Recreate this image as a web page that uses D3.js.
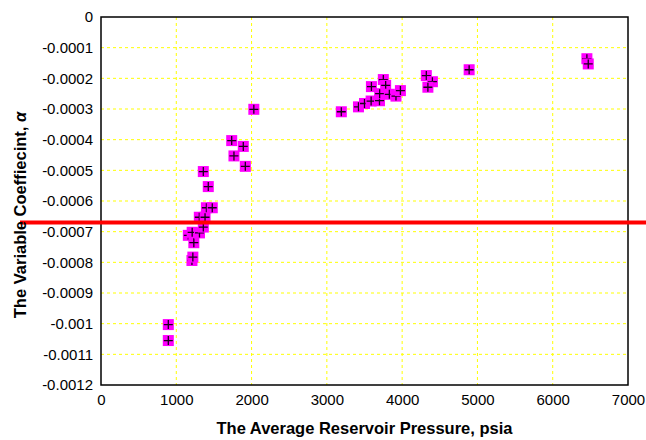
<!DOCTYPE html>
<html>
<head>
<meta charset="utf-8">
<script src="https://cdn.jsdelivr.net/npm/d3@7"></script>
<style>
  body { margin: 0; background: #fff; }
  svg { display: block; font-family: "Liberation Sans", Arial, sans-serif; }
</style>
</head>
<body>
<div id="chart"></div>
<script>
// Data
const pressure = [894, 894, 1160, 1208, 1220, 1211, 1233, 1308, 1359, 1306, 1382, 1400, 1478, 1425, 1359,
    1736, 1890, 1766, 1917, 2030,
    3192, 3420, 3500, 3588, 3699, 3592, 3750, 3781, 3701, 3830, 3918, 3977,
    4321, 4402, 4342, 4890, 6454, 6472];
const alpha = [-0.001055, -0.001003, -0.000712, -0.000794, -0.000783, -0.000702, -0.000736, -0.000704, -0.000685, -0.000653, -0.000653, -0.000622, -0.000622, -0.000553, -0.000504,
    -0.000403, -0.000422, -0.000453, -0.000487, -0.000301,
    -0.000309, -0.000293, -0.000282, -0.000274, -0.000273, -0.000227, -0.000204, -0.000223, -0.000250, -0.000252, -0.000258, -0.000240,
    -0.000191, -0.000211, -0.000229, -0.000172, -0.000136, -0.000153];
const xTicks = [0, 1000, 2000, 3000, 4000, 5000, 6000, 7000];
const yTicks = [0, -0.0001, -0.0002, -0.0003, -0.0004, -0.0005, -0.0006, -0.0007, -0.0008, -0.0009, -0.001, -0.0011, -0.0012];
const yTickLabels = ["0", "-0.0001", "-0.0002", "-0.0003", "-0.0004", "-0.0005", "-0.0006", "-0.0007", "-0.0008", "-0.0009", "-0.001", "-0.0011", "-0.0012"];
const thresholdValue = -0.00067;

const W = 646, H = 440;
const margin = { top: 17, right: 18, bottom: 55, left: 101 };
const width = W - margin.left - margin.right;
const height = H - margin.top - margin.bottom;

const svg = d3.select("#chart").append("svg")
    .attr("width", W)
    .attr("height", H);

const g = svg.append("g")
    .attr("transform", `translate(${margin.left},${margin.top})`);

const xScale = d3.scaleLinear().domain([0, 7000]).range([0, width]);
const yScale = d3.scaleLinear().domain([-0.0012, 0]).range([height, 0]);

// Grid lines
g.append("g").selectAll("line")
    .data(xTicks.slice(1, -1))
    .join("line")
    .attr("x1", d => xScale(d)).attr("x2", d => xScale(d))
    .attr("y1", 0).attr("y2", height)
    .attr("stroke", "#ffff00")
    .attr("stroke-width", 1)
    .attr("stroke-dasharray", "3,3");

g.append("g").selectAll("line")
    .data(yTicks.slice(1, -1))
    .join("line")
    .attr("x1", 0).attr("x2", width)
    .attr("y1", d => yScale(d)).attr("y2", d => yScale(d))
    .attr("stroke", "#ffff00")
    .attr("stroke-width", 1)
    .attr("stroke-dasharray", "3,3");

// Axes (labels only, frame drawn separately)
const xAxis = g.append("g")
    .attr("transform", `translate(0,${height})`)
    .call(d3.axisBottom(xScale).tickValues(xTicks).tickSize(0).tickPadding(9)
        .tickFormat(d3.format("d")));
xAxis.select(".domain").remove();
xAxis.selectAll("text").attr("font-size", 15).attr("fill", "#000")
    .attr("font-family", "Liberation Sans, Arial, sans-serif");

const yAxis = g.append("g")
    .call(d3.axisLeft(yScale).tickValues(yTicks).tickSize(0).tickPadding(8)
        .tickFormat((d, i) => yTickLabels[i]));
yAxis.select(".domain").remove();
yAxis.selectAll("text").attr("font-size", 15).attr("fill", "#000")
    .attr("font-family", "Liberation Sans, Arial, sans-serif");

// Data markers: magenta square with a black plus
const pts = pressure.map((p, i) => ({ x: p, y: alpha[i] }));
const marker = g.append("g").selectAll("g")
    .data(pts)
    .join("g")
    .attr("transform", d => `translate(${xScale(d.x)},${yScale(d.y)})`);

marker.append("rect")
    .attr("x", -5.5).attr("y", -5.5)
    .attr("width", 11).attr("height", 11)
    .attr("fill", "#ff00ff");

marker.append("path")
    .attr("d", "M-4.5,0H4.5M0,-4.5V4.5")
    .attr("stroke", "#1a001a")
    .attr("stroke-width", 1.3);

// Plot frame
g.append("rect")
    .attr("width", width).attr("height", height)
    .attr("fill", "none")
    .attr("stroke", "#000")
    .attr("stroke-width", 1.5);

// Red threshold line spanning beyond the plot area
const xLeft = xScale.invert(20 - margin.left);
const xRight = xScale.invert(W - margin.left);
g.append("line")
    .attr("x1", xScale(xLeft)).attr("x2", xScale(xRight))
    .attr("y1", yScale(thresholdValue)).attr("y2", yScale(thresholdValue))
    .attr("stroke", "#ff0000")
    .attr("stroke-width", 4);

// Axis titles
svg.append("text")
    .attr("x", margin.left + width / 2)
    .attr("y", 434)
    .attr("text-anchor", "middle")
    .attr("font-size", 16.5)
    .attr("font-weight", "bold")
    .text("The Average Reservoir Pressure, psia");

const yTitle = svg.append("text")
    .attr("transform", "translate(26,215) rotate(-90)")
    .attr("text-anchor", "middle")
    .attr("font-size", 16.5)
    .attr("font-weight", "bold");
yTitle.append("tspan").text("The Variable Coeffiecint, ");
yTitle.append("tspan").attr("font-style", "italic").text("α");
</script>
</body>
</html>
